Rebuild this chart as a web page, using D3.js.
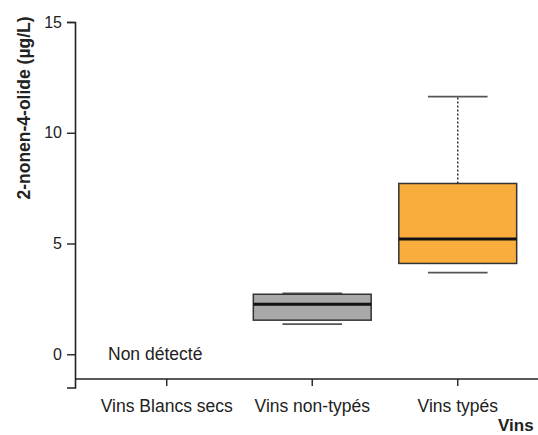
<!DOCTYPE html>
<html><head><meta charset="utf-8">
<script src="https://cdn.jsdelivr.net/npm/d3@7"></script>
<style>
html,body{margin:0;padding:0;background:#fff;}
svg{display:block;font-family:"Liberation Sans",Arial,sans-serif;}
</style></head>
<body><svg id="c" width="538" height="435"></svg>
<script>
const categories = ["Vins Blancs secs", "Vins non-typés", "Vins typés"];
const whiskerLow  = [null, 1.36, 3.69];
const q1          = [null, 1.54, 4.10];
const median      = [null, 2.26, 5.20];
const q3          = [null, 2.71, 7.71];
const whiskerHigh = [null, 2.75, 11.63];
const boxColors   = [null, "#a9a9a9", "#f9ad3d"];
const yTicks = [0, 5, 10, 15];

const FONT = "Liberation Sans, Arial, sans-serif";
const svg = d3.select("#c");
const y = d3.scaleLinear().domain([-1.5, 15]).range([387.5, 22]);
const x = d3.scaleBand().domain(categories).range([94, 530.5]).paddingInner(0).paddingOuter(0);
const axisY = 379;
const axisX = 75;

// y axis
const gy = svg.append("g").attr("transform", `translate(${axisX},0)`)
  .call(d3.axisLeft(y).tickValues(yTicks).tickSizeOuter(0).tickSize(8).tickPadding(5));
gy.select(".domain").attr("stroke", "#222").attr("stroke-width", 1.6);
gy.selectAll(".tick line").attr("stroke", "#222").attr("stroke-width", 1.4);
gy.selectAll(".tick text").attr("font-size", 16).attr("fill", "#222").attr("font-family", FONT);

// x axis
const gx = svg.append("g").attr("transform", `translate(0,${axisY})`)
  .call(d3.axisBottom(x).tickSizeOuter(0).tickSize(7).tickPadding(14));
gx.select(".domain").remove();
gx.append("line").attr("x1", axisX).attr("x2", 538).attr("y1", 0).attr("y2", 0)
  .attr("stroke", "#222").attr("stroke-width", 1.6);
gx.selectAll(".tick line").attr("stroke", "#222").attr("stroke-width", 1.4);
gx.selectAll(".tick text").attr("font-size", 17.5).attr("fill", "#222").attr("font-family", FONT);

// boxes
const bw = x.bandwidth() * 0.81;
const cw = x.bandwidth() * 0.41;
categories.forEach((c, i) => {
  if (median[i] == null) return;
  const cx = x(c) + x.bandwidth() / 2;
  const g = svg.append("g");
  g.append("line").attr("x1", cx).attr("x2", cx).attr("y1", y(q3[i])).attr("y2", y(whiskerHigh[i]))
    .attr("stroke", "#333").attr("stroke-width", 1.5).attr("stroke-dasharray", "2,2");
  [whiskerLow[i], whiskerHigh[i]].forEach(v => {
    g.append("line").attr("x1", cx - cw / 2).attr("x2", cx + cw / 2).attr("y1", y(v)).attr("y2", y(v))
      .attr("stroke", "#555").attr("stroke-width", 1.8);
  });
  g.append("rect").attr("x", cx - bw / 2).attr("width", bw)
    .attr("y", y(q3[i])).attr("height", y(q1[i]) - y(q3[i]))
    .attr("fill", boxColors[i]).attr("stroke", "#333").attr("stroke-width", 1.5);
  g.append("line").attr("x1", cx - bw / 2).attr("x2", cx + bw / 2).attr("y1", y(median[i])).attr("y2", y(median[i]))
    .attr("stroke", "#111").attr("stroke-width", 3);
});

// Non détecté label
svg.append("text").attr("x", x(categories[0]) + 14).attr("y", y(0) + 6)
  .attr("font-size", 17.5).attr("fill", "#222").text("Non détecté");

// y title
svg.append("text").attr("transform", `translate(30,108) rotate(-90)`)
  .attr("text-anchor", "middle").attr("font-size", 17.5).attr("font-weight", "bold").attr("fill", "#222")
  .text("2-nonen-4-olide (µg/L)");

// x title (partly visible in reference)
svg.append("text").attr("x", 498).attr("y", 431).attr("font-size", 17).attr("font-weight", "bold")
  .attr("fill", "#222").text("Vins");
</script></body></html>
